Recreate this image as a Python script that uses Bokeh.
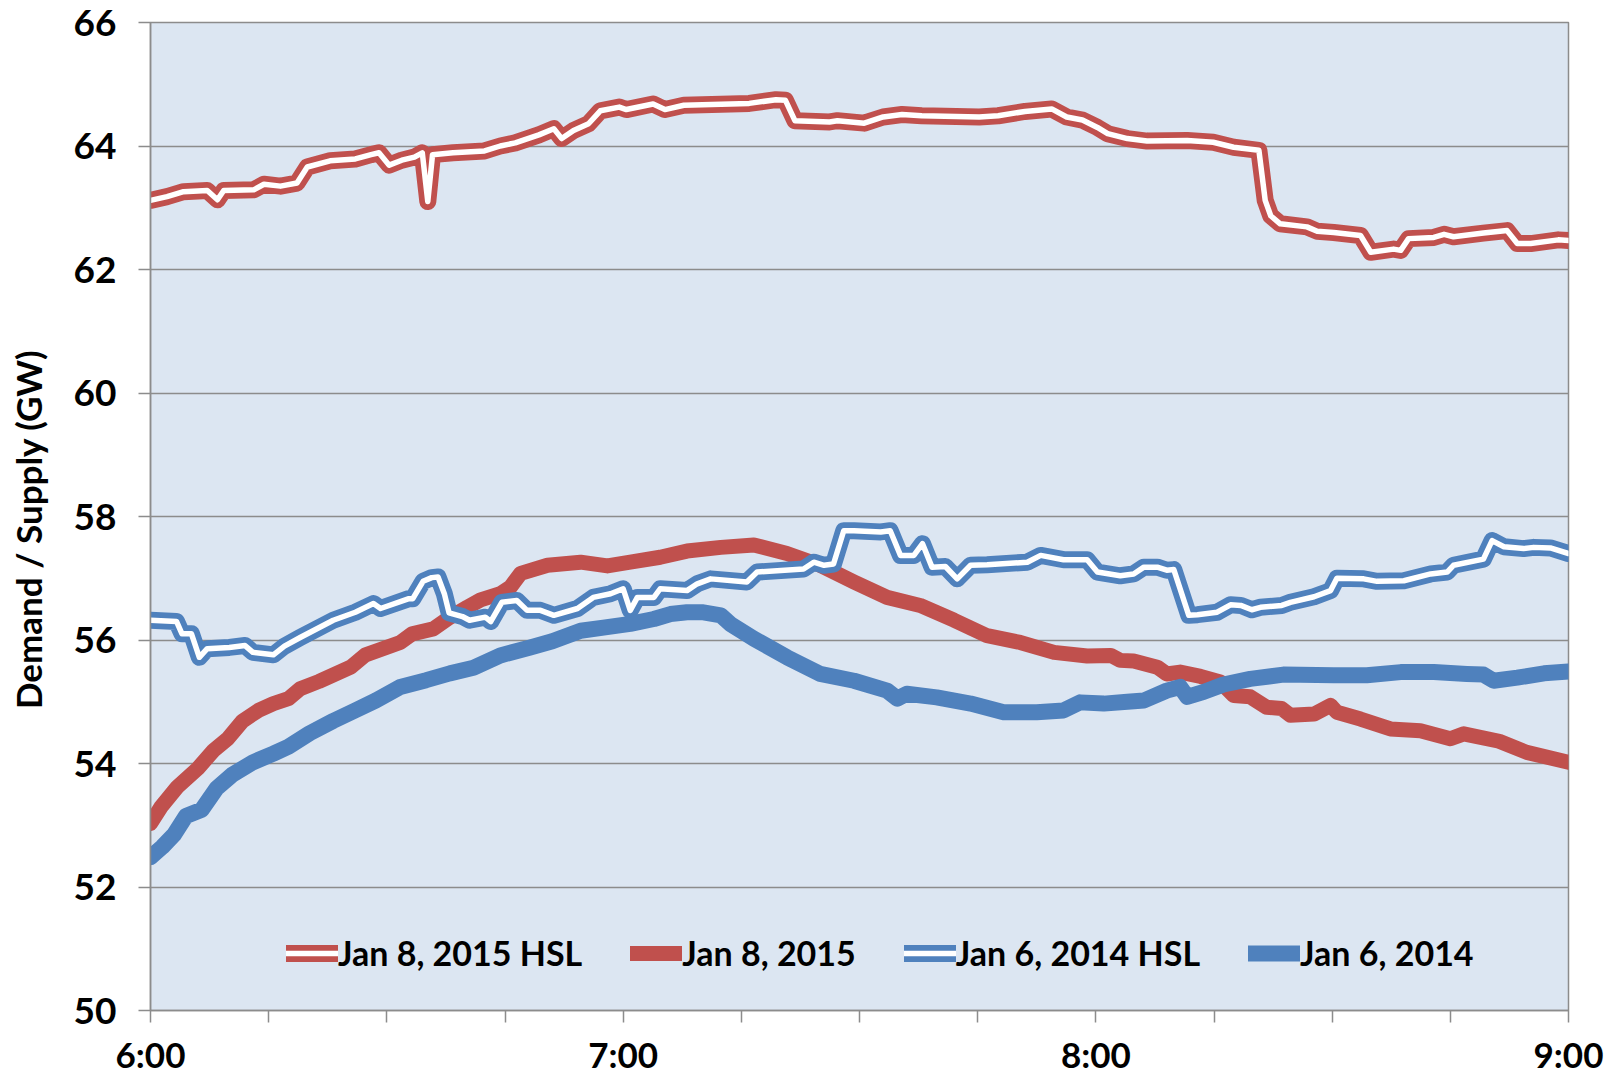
from bokeh.plotting import figure
from bokeh.models import FixedTicker, Legend, LegendItem, Range1d
from bokeh.embed import file_html
from bokeh.resources import INLINE

# minutes after 6:00
hsl15_t = [0, 2.1, 4.2, 7.2, 8.5, 9.3, 13.1, 14.4, 16.5, 18.6, 19.9, 22.8, 26, 28, 29, 30.3, 31.9, 33.5, 34.5, 35.2,
           35.8, 38.4, 42.4, 44.4, 46.3, 49.3, 51.2, 52.2, 53.7, 55.6, 57.1, 59.5, 60.4, 63.8, 65.3, 67.7, 76, 79.4, 80.6, 81.8,
           86.2, 87.2, 90.6, 93, 95.4, 97.9, 105.2, 107.6, 111, 114.4, 116.3, 118.3, 120.2, 121.5, 124, 126.5, 131.6, 134.9, 137.5, 140.7,
           141.5, 142.2, 143.4, 146.8, 148.1, 150.2, 153.6, 154.9, 157.8, 158.7, 159.7, 162.9, 164.2, 165.4, 169.2, 172.2, 173.5, 175.2, 178.7, 180]
hsl15_v = [63.12, 63.18, 63.26, 63.28, 63.13, 63.28, 63.29, 63.38, 63.35, 63.4, 63.66, 63.76, 63.79, 63.86, 63.89, 63.69, 63.77, 63.82, 63.89, 63.1,
           63.86, 63.89, 63.92, 64.0, 64.05, 64.18, 64.28, 64.12, 64.25, 64.36, 64.57, 64.63, 64.59, 64.68, 64.59, 64.66, 64.69, 64.75, 64.74, 64.41,
           64.39, 64.41, 64.37, 64.47, 64.51, 64.49, 64.47, 64.49, 64.56, 64.6, 64.47, 64.42, 64.3, 64.2, 64.12, 64.08, 64.09, 64.06, 63.98, 63.93,
           63.12, 62.87, 62.74, 62.69, 62.62, 62.6, 62.55, 62.28, 62.33, 62.31, 62.5, 62.52, 62.57, 62.53, 62.59, 62.63, 62.42, 62.42, 62.48, 62.47]

dem15_t = [0, 1.3, 3.4, 6, 8, 9.8, 11.7, 13.7, 15.6, 17.5, 19, 21.4, 25.4, 27.3, 31.7, 33.2, 35.9, 37.8, 40.2, 41.9,
           44.4, 45.7, 47, 50.4, 54.6, 58, 60.9, 64.7, 68.1, 72.4, 76.6, 80.8, 85, 89.3, 93.5, 97.7, 102, 106.2, 110.4, 114.7,
           118.9, 121.9, 123.1, 124.8, 127.8, 129, 130.7, 133.3, 135.8, 137.5, 139.6, 141.7, 143.6, 144.7, 147.7, 149.8, 150.6, 153.6, 157.4, 161.2,
           165, 166.7, 171.2, 174.7, 180]
dem15_v = [53.03, 53.29, 53.62, 53.92, 54.21, 54.4, 54.69, 54.86, 54.97, 55.05, 55.21, 55.33, 55.56, 55.76, 55.96, 56.1, 56.18, 56.35, 56.53, 56.65,
           56.75, 56.86, 57.08, 57.21, 57.26, 57.2, 57.26, 57.34, 57.44, 57.5, 57.54, 57.4, 57.21, 56.94, 56.69, 56.56, 56.32, 56.07, 55.96, 55.8,
           55.74, 55.75, 55.67, 55.66, 55.56, 55.45, 55.48, 55.41, 55.32, 55.1, 55.08, 54.91, 54.89, 54.78, 54.8, 54.94, 54.83, 54.72, 54.56, 54.53,
           54.4, 54.48, 54.36, 54.18, 54.02]

hsl14_t = [0, 3.3, 4, 5.2, 6.2, 7.2, 10, 12, 13, 15.6, 17, 19, 23.2, 26, 28.3, 29.2, 32.8, 33.3, 34.6, 35.7,
           36.5, 37.3, 37.9, 39.6, 40.5, 42.5, 43.2, 44.6, 46.5, 47.8, 49.5, 51.2, 54.2, 56.2, 58.4, 60, 60.9, 61.8, 63.9, 64.7,
           68.1, 69.4, 71.1, 75.7, 77, 82.9, 84.2, 85.5, 86.7, 88, 89.3, 92.7, 93.9, 95.2, 96.9, 98, 99.2, 100.9, 102.4, 104.1,
           106.2, 111.3, 113, 115.9, 118.9, 120.2, 123.1, 124.8, 126.1, 127.8, 129, 129.9, 131.8, 132.9, 135.4, 137.1, 138.4, 139.8, 140.9, 143.6,
           144.7, 147.7, 149.8, 150.6, 154, 155.7, 159.1, 162.5, 164.6, 165.4, 169.2, 170.3, 171.8, 174.3, 175.6, 177.7, 180]
hsl14_v = [56.32, 56.3, 56.1, 56.1, 55.72, 55.86, 55.88, 55.91, 55.8, 55.76, 55.9, 56.04, 56.32, 56.45, 56.59, 56.51, 56.67, 56.67, 56.95, 57.01,
           57.02, 56.75, 56.44, 56.38, 56.32, 56.37, 56.3, 56.61, 56.64, 56.48, 56.48, 56.4, 56.51, 56.69, 56.75, 56.83, 56.48, 56.69, 56.69, 56.83,
           56.8, 56.91, 56.99, 56.94, 57.1, 57.15, 57.26, 57.21, 57.23, 57.77, 57.77, 57.75, 57.77, 57.37, 57.37, 57.56, 57.18, 57.19, 56.99, 57.21,
           57.22, 57.26, 57.37, 57.3, 57.3, 57.1, 57.04, 57.07, 57.18, 57.18, 57.13, 57.14, 56.4, 56.41, 56.45, 56.57, 56.56, 56.49, 56.53, 56.56,
           56.61, 56.7, 56.8, 57.0, 56.99, 56.95, 56.96, 57.07, 57.1, 57.21, 57.31, 57.61, 57.51, 57.48, 57.5, 57.49, 57.4]

dem14_t = [0, 1.5, 3, 4.5, 6.5, 8.4, 10.4, 13, 15.6, 17.5, 20.2, 23.2, 26, 28.6, 31.7, 35, 38, 41, 44.4, 48.2,
           51, 54.6, 57.5, 60.9, 63.9, 66, 68.1, 70, 72.4, 73.6, 76.6, 80.8, 85, 89.3, 93.5, 94.8, 96, 99.8, 104.1, 108.3,
           112.5, 115.9, 118, 121, 124, 126.1, 129, 130.7, 131.6, 133.7, 136.2, 139.6, 143.8, 150.2, 154.4, 158.7, 162.9, 167.1, 169.2, 170.5,
           173.5, 176.9, 180]
dem14_v = [52.48, 52.65, 52.85, 53.15, 53.25, 53.6, 53.82, 54.02, 54.16, 54.27, 54.49, 54.69, 54.86, 55.02, 55.24, 55.35, 55.46, 55.55, 55.75, 55.88,
           55.98, 56.15, 56.2, 56.26, 56.34, 56.42, 56.45, 56.45, 56.4, 56.26, 56.02, 55.72, 55.45, 55.34, 55.18, 55.05, 55.13, 55.07, 54.97, 54.83,
           54.83, 54.86, 54.99, 54.97, 55.0, 55.02, 55.18, 55.24, 55.08, 55.16, 55.28, 55.37, 55.44, 55.43, 55.43, 55.48, 55.48, 55.45, 55.44, 55.34,
           55.39, 55.46, 55.49]

labels = ["Jan 8, 2015 HSL", "Jan 8, 2015", "Jan 6, 2014 HSL", "Jan 6, 2014"]
y_ticks = [50, 52, 54, 56, 58, 60, 62, 64, 66]
x_ticks = [0, 15, 30, 45, 60, 75, 90, 105, 120, 135, 150, 165, 180]
x_tick_labels = {0: "6:00", 60: "7:00", 120: "8:00", 180: "9:00"}

RED = "#C0504D"
BLUE = "#4F81BD"
FONT = "Lato"

p = figure(frame_width=1418, frame_height=988, x_range=Range1d(0, 180), y_range=Range1d(50, 66),
           output_backend="svg", toolbar_location=None,
           min_border_left=150, min_border_top=22, min_border_right=40, min_border_bottom=50)
p.background_fill_color = "#DCE6F2"
p.border_fill_color = "white"
p.outline_line_color = "#8C8C8C"
p.outline_line_width = 1.5

p.xgrid.visible = False
p.ygrid.ticker = FixedTicker(ticks=y_ticks)
p.ygrid.grid_line_color = "#8C8C8C"
p.ygrid.grid_line_width = 1.5

p.yaxis.ticker = FixedTicker(ticks=y_ticks)
p.xaxis.ticker = FixedTicker(ticks=x_ticks)
p.xaxis.major_label_overrides = {t: x_tick_labels.get(t, "") for t in x_ticks}
for ax in (p.xaxis[0], p.yaxis[0]):
    ax.axis_line_color = "#8C8C8C"
    ax.axis_line_width = 1.5
    ax.major_tick_line_color = "#8C8C8C"
    ax.major_tick_line_width = 1.5
    ax.major_tick_out = 12
    ax.major_tick_in = 0
    ax.minor_tick_line_color = None
    ax.major_label_text_font = FONT
    ax.major_label_text_font_style = "bold"
    ax.major_label_text_color = "black"
p.yaxis.major_label_text_font_size = "37px"
p.xaxis.major_label_text_font_size = "35px"
p.yaxis.major_label_standoff = 22
p.xaxis.major_label_standoff = 10
p.yaxis.axis_label = "Demand / Supply (GW)\u00a0\u00a0\u00a0"
p.yaxis.axis_label_text_font = FONT
p.yaxis.axis_label_text_font_style = "bold"
p.yaxis.axis_label_text_font_size = "35px"
p.yaxis.axis_label_text_color = "black"
p.yaxis.axis_label_standoff = 22

def hsl(t, v, color):
    outer = p.line(t, v, line_color=color, line_width=17, line_join="round", line_cap="round")
    inner = p.line(t, v, line_color="white", line_width=5.5, line_join="round", line_cap="round")
    return [outer, inner]

r1 = hsl(hsl15_t, hsl15_v, RED)
r2 = [p.line(dem15_t, dem15_v, line_color=RED, line_width=15, line_join="round", line_cap="round")]
r3 = hsl(hsl14_t, hsl14_v, BLUE)
r4 = [p.line(dem14_t, dem14_v, line_color=BLUE, line_width=16, line_join="round", line_cap="round")]

legend = Legend(items=[LegendItem(label=l, renderers=r) for l, r in zip(labels, [r1, r2, r3, r4])],
                orientation="horizontal", location=(136, 37), glyph_width=52, glyph_height=20,
                label_standoff=0, spacing=48, padding=0, margin=0,
                background_fill_alpha=0, border_line_alpha=0,
                label_text_font=FONT, label_text_font_style="bold", label_text_font_size="34px",
                label_text_color="black")
p.add_layout(legend)

open("out.html", "w").write(file_html(p, INLINE))
